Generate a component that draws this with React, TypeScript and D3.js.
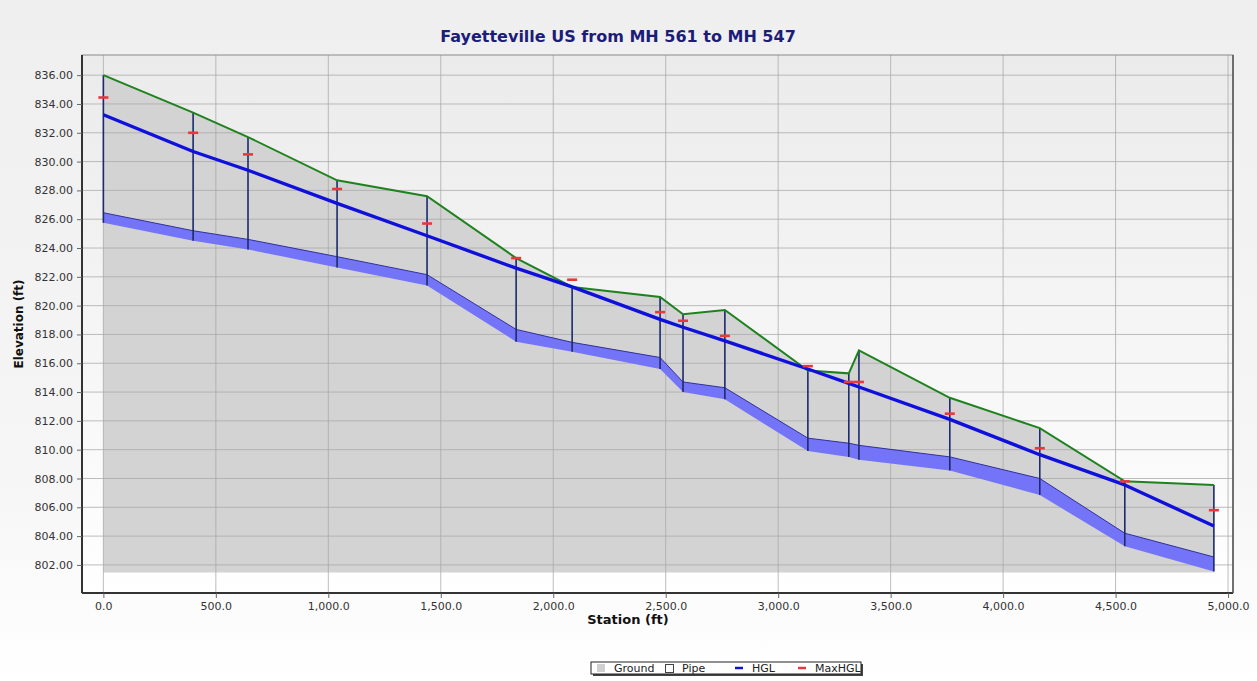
import React, { useEffect, useRef } from 'react';
import * as d3 from 'd3';

// node stations (ft) and elevations (ft)
const stations = [0, 399, 643, 1039, 1439, 1835, 2084, 2475, 2577, 2763, 3132, 3314, 3359, 3763, 4163, 4541, 4937];
const groundElev = [836.0, 833.4, 831.7, 828.7, 827.6, 823.3, 821.3, 820.6, 819.4, 819.7, 815.5, 815.3, 816.9, 813.6, 811.5, 807.8, 807.55];
const hglElev = [833.25, 830.7, 829.4, 827.1, 824.85, 822.6, 821.3, 819.05, 818.5, 817.55, 815.6, 814.6, 814.35, 812.1, 809.65, 807.55, 804.7];
const maxHglElev = [834.45, 832.0, 830.5, 828.1, 825.7, 823.3, 821.8, 819.55, 818.95, 817.9, 815.8, 814.7, 814.7, 812.5, 810.1, 807.8, 805.8];
const pipeCrown = [826.45, 825.2, 824.6, 823.4, 822.15, 818.35, 817.45, 816.4, 814.7, 814.3, 810.8, 810.45, 810.3, 809.5, 808.0, 804.2, 802.55];
const pipeInvert = [825.75, 824.5, 823.9, 822.65, 821.4, 817.5, 816.8, 815.6, 814.0, 813.5, 809.9, 809.5, 809.3, 808.55, 806.85, 803.3, 801.55];

const xTicks = [0, 500, 1000, 1500, 2000, 2500, 3000, 3500, 4000, 4500, 5000];
const yTicks = [802, 804, 806, 808, 810, 812, 814, 816, 818, 820, 822, 824, 826, 828, 830, 832, 834, 836];
const groundBase = 801.47;

const legendItems = ['Ground', 'Pipe', 'HGL', 'MaxHGL'];

function App() {
    const chartRef = useRef<HTMLDivElement>(null);

    useEffect(() => {
        var width = 1257,
            height = 681,
            left = 82, right = 1233, top = 55, bottom = 593;

        d3.select(chartRef.current).select('svg').remove();

        var font = '"DejaVu Sans", Verdana, sans-serif';

        var svg = d3.select(chartRef.current)
            .append('svg')
            .attr('width', width)
            .attr('height', height)
            .style('position', 'absolute')
            .style('left', '0px')
            .style('top', '0px');

        var defs = svg.append('defs');
        var pageGrad = defs.append('linearGradient').attr('id', 'pageGrad')
            .attr('x1', 0).attr('y1', 0).attr('x2', 0).attr('y2', 1);
        pageGrad.append('stop').attr('offset', '0%').attr('stop-color', '#efefef');
        pageGrad.append('stop').attr('offset', '70%').attr('stop-color', '#f6f6f6');
        pageGrad.append('stop').attr('offset', '100%').attr('stop-color', '#ffffff');

        var plotGrad = defs.append('linearGradient').attr('id', 'plotGrad')
            .attr('x1', 0).attr('y1', 0).attr('x2', 0).attr('y2', 1);
        plotGrad.append('stop').attr('offset', '0%').attr('stop-color', '#ebebeb');
        plotGrad.append('stop').attr('offset', '100%').attr('stop-color', '#ffffff');

        svg.append('rect').attr('width', width).attr('height', height).attr('fill', 'url(#pageGrad)');

        var x = d3.scaleLinear().domain([-95, 5022]).range([left, right]);
        var y = d3.scaleLinear().domain([800.05, 837.4]).range([bottom, top]);

        // title
        svg.append('text')
            .attr('x', 618).attr('y', 42)
            .attr('text-anchor', 'middle')
            .style('font-family', font).style('font-size', '16px').style('font-weight', 'bold')
            .attr('fill', '#1c1c7a')
            .text('Fayetteville US from MH 561 to MH 547');

        // plot background
        svg.append('rect')
            .attr('x', left).attr('y', top)
            .attr('width', right - left).attr('height', bottom - top)
            .attr('fill', 'url(#plotGrad)');

        var nodes = stations.map(function (s, i) {
            return {
                s: s, ground: groundElev[i], hgl: hglElev[i], maxHgl: maxHglElev[i],
                crown: pipeCrown[i], invert: pipeInvert[i]
            };
        });

        // ground fill
        var groundArea = d3.area<any>()
            .x(function (d) { return x(d.s); })
            .y0(y(groundBase))
            .y1(function (d) { return y(d.ground); });
        svg.append('path').datum(nodes).attr('d', groundArea).attr('fill', '#d3d3d3');

        // grid
        var grid = svg.append('g');
        grid.selectAll('.vg').data(xTicks).enter().append('line')
            .attr('x1', function (d) { return x(d); }).attr('x2', function (d) { return x(d); })
            .attr('y1', top).attr('y2', bottom)
            .attr('stroke', '#a8a8a8').attr('stroke-width', 1).attr('opacity', 0.75);
        grid.selectAll('.hg').data(yTicks).enter().append('line')
            .attr('x1', left).attr('x2', right)
            .attr('y1', function (d) { return y(d); }).attr('y2', function (d) { return y(d); })
            .attr('stroke', '#a8a8a8').attr('stroke-width', 1).attr('opacity', 0.75);

        // pipe band
        var pipeArea = d3.area<any>()
            .x(function (d) { return x(d.s); })
            .y0(function (d) { return y(d.invert); })
            .y1(function (d) { return y(d.crown); });
        svg.append('path').datum(nodes).attr('d', pipeArea).attr('fill', '#7474f8');
        svg.append('path').datum(nodes)
            .attr('d', d3.line<any>().x(function (d) { return x(d.s); }).y(function (d) { return y(d.crown); }))
            .attr('fill', 'none').attr('stroke', '#30309a').attr('stroke-width', 1);

        // node verticals
        svg.selectAll('.node').data(nodes).enter().append('line')
            .attr('x1', function (d) { return x(d.s); }).attr('x2', function (d) { return x(d.s); })
            .attr('y1', function (d) { return y(d.ground); })
            .attr('y2', function (d) { return y(d.invert); })
            .attr('stroke', '#1d2a6c').attr('stroke-width', 1.6);

        // ground line
        svg.append('path').datum(nodes)
            .attr('d', d3.line<any>().x(function (d) { return x(d.s); }).y(function (d) { return y(d.ground); }))
            .attr('fill', 'none').attr('stroke', '#1e821e').attr('stroke-width', 2);

        // HGL
        svg.append('path').datum(nodes)
            .attr('d', d3.line<any>().x(function (d) { return x(d.s); }).y(function (d) { return y(d.hgl); }))
            .attr('fill', 'none').attr('stroke', '#1010dc').attr('stroke-width', 3.4)
            .attr('stroke-linejoin', 'round');

        // max HGL markers
        svg.selectAll('.mx').data(nodes).enter().append('line')
            .attr('x1', function (d) { return x(d.s) - 5; }).attr('x2', function (d) { return x(d.s) + 5; })
            .attr('y1', function (d) { return y(d.maxHgl); }).attr('y2', function (d) { return y(d.maxHgl); })
            .attr('stroke', '#e8383c').attr('stroke-width', 2.6);

        // frame
        svg.append('rect')
            .attr('x', left).attr('y', top)
            .attr('width', right - left).attr('height', bottom - top)
            .attr('fill', 'none').attr('stroke', '#8a8a8a').attr('stroke-width', 1);
        svg.append('line').attr('x1', left).attr('x2', left).attr('y1', top).attr('y2', bottom)
            .attr('stroke', '#333').attr('stroke-width', 2);
        svg.append('line').attr('x1', left).attr('x2', right).attr('y1', bottom).attr('y2', bottom)
            .attr('stroke', '#333').attr('stroke-width', 2);
        svg.append('line').attr('x1', right).attr('x2', right).attr('y1', top).attr('y2', bottom)
            .attr('stroke', '#555').attr('stroke-width', 1.5);

        // axes
        var yAxis = d3.axisLeft(y).tickValues(yTicks).tickSize(5).tickPadding(4)
            .tickFormat(function (d) { return d3.format('.2f')(d as number); });
        var ga = svg.append('g').attr('transform', 'translate(' + left + ',0)').call(yAxis);
        var xAxis = d3.axisBottom(x).tickValues(xTicks).tickSize(5).tickPadding(4)
            .tickFormat(function (d) { return d3.format(',.1f')(d as number); });
        var gb = svg.append('g').attr('transform', 'translate(0,' + bottom + ')').call(xAxis);
        [ga, gb].forEach(function (g) {
            g.select('.domain').remove();
            g.selectAll('line').attr('stroke', '#666');
            g.selectAll('text').style('font-family', font).style('font-size', '11px').attr('fill', '#333');
        });

        // axis titles
        svg.append('text')
            .attr('x', 628).attr('y', 624)
            .attr('text-anchor', 'middle')
            .style('font-family', font).style('font-size', '13px').style('font-weight', 'bold')
            .attr('fill', '#111')
            .text('Station (ft)');
        svg.append('text')
            .attr('transform', 'translate(23,' + ((top + bottom) / 2) + ') rotate(-90)')
            .attr('text-anchor', 'middle')
            .style('font-family', font).style('font-size', '12px').style('font-weight', 'bold')
            .attr('fill', '#111')
            .text('Elevation (ft)');

        // legend
        var lg = svg.append('g').attr('transform', 'translate(591,662)');
        lg.append('rect').attr('x', 2).attr('y', 2).attr('width', 270).attr('height', 12).attr('fill', '#444');
        lg.append('rect').attr('x', 0).attr('y', 0).attr('width', 270).attr('height', 12)
            .attr('fill', '#fff').attr('stroke', '#222').attr('stroke-width', 1);
        var offsets = [6, 74, 144, 207];
        legendItems.forEach(function (name, i) {
            var ox = offsets[i];
            if (name === 'Ground') {
                lg.append('rect').attr('x', ox).attr('y', 2).attr('width', 8).attr('height', 8).attr('fill', '#d0d0d0');
            } else if (name === 'Pipe') {
                lg.append('rect').attr('x', ox + 0.5).attr('y', 2.5).attr('width', 8).attr('height', 8)
                    .attr('fill', '#fff').attr('stroke', '#444').attr('stroke-width', 1);
            } else {
                lg.append('line').attr('x1', ox).attr('x2', ox + 8).attr('y1', 6).attr('y2', 6)
                    .attr('stroke', name === 'HGL' ? '#1010dc' : '#e8383c').attr('stroke-width', 2.5);
            }
            lg.append('text')
                .attr('x', ox + 17).attr('y', 10)
                .style('font-family', font).style('font-size', '11px')
                .attr('fill', '#222')
                .text(name);
        });
    }, []);

    return (
        <div ref={chartRef} style={{ width: 1257, height: 681 }}></div>
    );
}

export default App;
